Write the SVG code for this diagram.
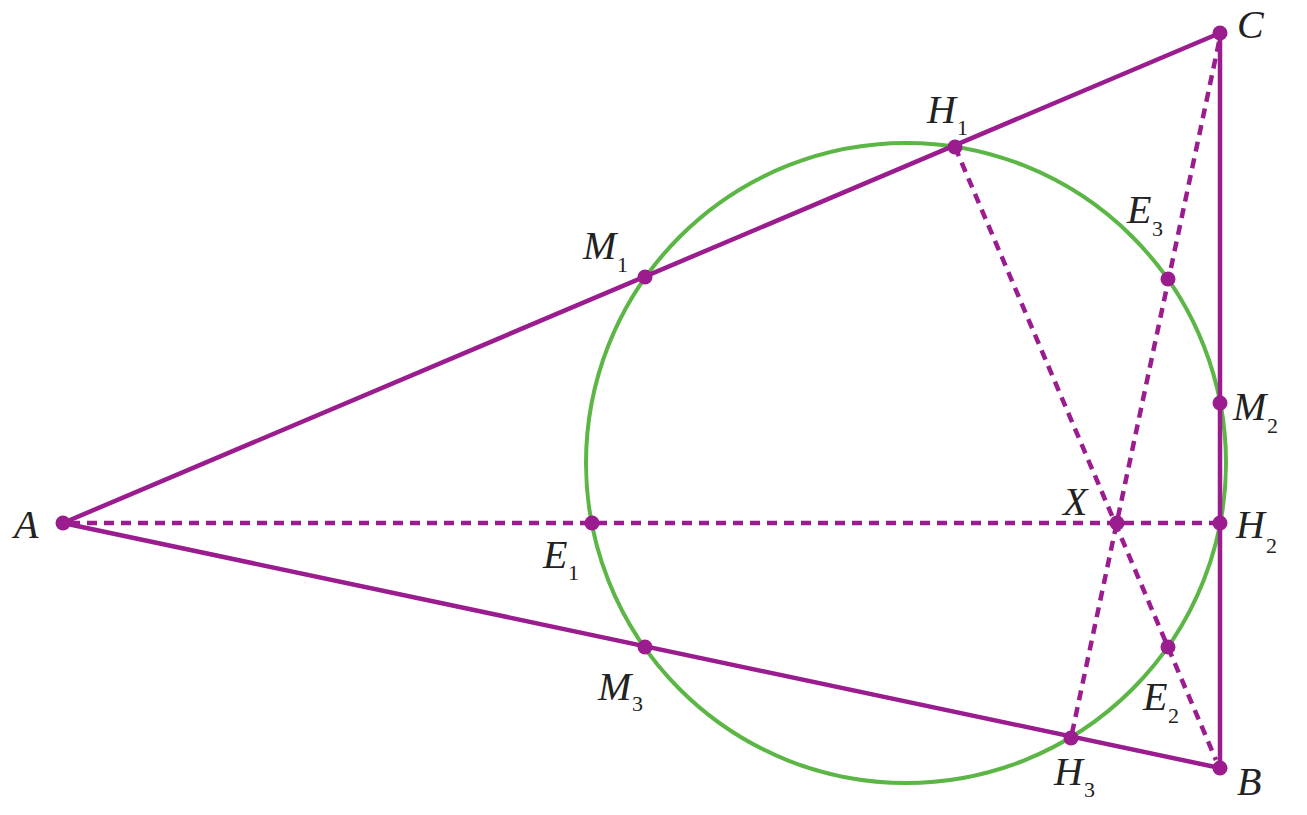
<svg xmlns="http://www.w3.org/2000/svg" width="1307" height="815" viewBox="0 0 1307 815">
<style>
.solid{stroke:#9a1c8e;stroke-width:4.5;fill:none;stroke-linecap:round}
.dash{stroke:#9a1c8e;stroke-width:4.5;fill:none;stroke-dasharray:10 7}
.circ{stroke:#5cb646;stroke-width:4;fill:none}
.pt{fill:#9a1c8e}
.lbl{font-family:"Liberation Serif",serif;font-style:italic;font-size:40px;fill:#222}
.sub{font-style:normal;font-size:22px}
</style>
<rect width="1307" height="815" fill="#fff"/>
<g id="circle"><circle class="circ" cx="906" cy="463" r="320"/></g>
<g id="connectors">
<line class="solid" x1="63" y1="523" x2="1220" y2="33"/>
<line class="solid" x1="63" y1="523" x2="1220" y2="768"/>
<line class="solid" x1="1220" y1="33" x2="1220" y2="768"/>
<line class="dash" x1="70" y1="523" x2="1220" y2="523"/>
<line class="dash" x1="955" y1="147" x2="1216" y2="760"/>
<line class="dash" x1="1219" y1="42" x2="1071" y2="738"/>
</g>
<g id="A"><circle class="pt" cx="63" cy="523" r="7.5"/><text class="lbl" x="14" y="538">A</text></g>
<g id="B"><circle class="pt" cx="1220" cy="768" r="7.5"/><text class="lbl" x="1237" y="795">B</text></g>
<g id="C"><circle class="pt" cx="1220" cy="33" r="7.5"/><text class="lbl" x="1237" y="38">C</text></g>
<g id="H1"><circle class="pt" cx="955" cy="147" r="7.5"/><text class="lbl" x="927" y="123">H</text><text class="lbl sub" x="957" y="135">1</text></g>
<g id="M1"><circle class="pt" cx="645" cy="277" r="7.5"/><text class="lbl" x="583" y="259">M</text><text class="lbl sub" x="617" y="272">1</text></g>
<g id="E3"><circle class="pt" cx="1168" cy="279" r="7.5"/><text class="lbl" x="1127" y="223">E</text><text class="lbl sub" x="1152" y="236">3</text></g>
<g id="M2"><circle class="pt" cx="1220" cy="403" r="7.5"/><text class="lbl" x="1233" y="420">M</text><text class="lbl sub" x="1267" y="433">2</text></g>
<g id="H2"><circle class="pt" cx="1220" cy="523" r="7.5"/><text class="lbl" x="1236" y="538">H</text><text class="lbl sub" x="1266" y="553">2</text></g>
<g id="X"><circle class="pt" cx="1117" cy="523" r="7.5"/><text class="lbl" x="1063" y="515">X</text></g>
<g id="E1"><circle class="pt" cx="592" cy="523" r="7.5"/><text class="lbl" x="543" y="568">E</text><text class="lbl sub" x="568" y="580">1</text></g>
<g id="M3"><circle class="pt" cx="645" cy="647" r="7.5"/><text class="lbl" x="598" y="700">M</text><text class="lbl sub" x="632" y="711">3</text></g>
<g id="E2"><circle class="pt" cx="1168" cy="647" r="7.5"/><text class="lbl" x="1143" y="710">E</text><text class="lbl sub" x="1168" y="723">2</text></g>
<g id="H3"><circle class="pt" cx="1071" cy="738" r="7.5"/><text class="lbl" x="1054" y="785">H</text><text class="lbl sub" x="1084" y="797">3</text></g>
</svg>
